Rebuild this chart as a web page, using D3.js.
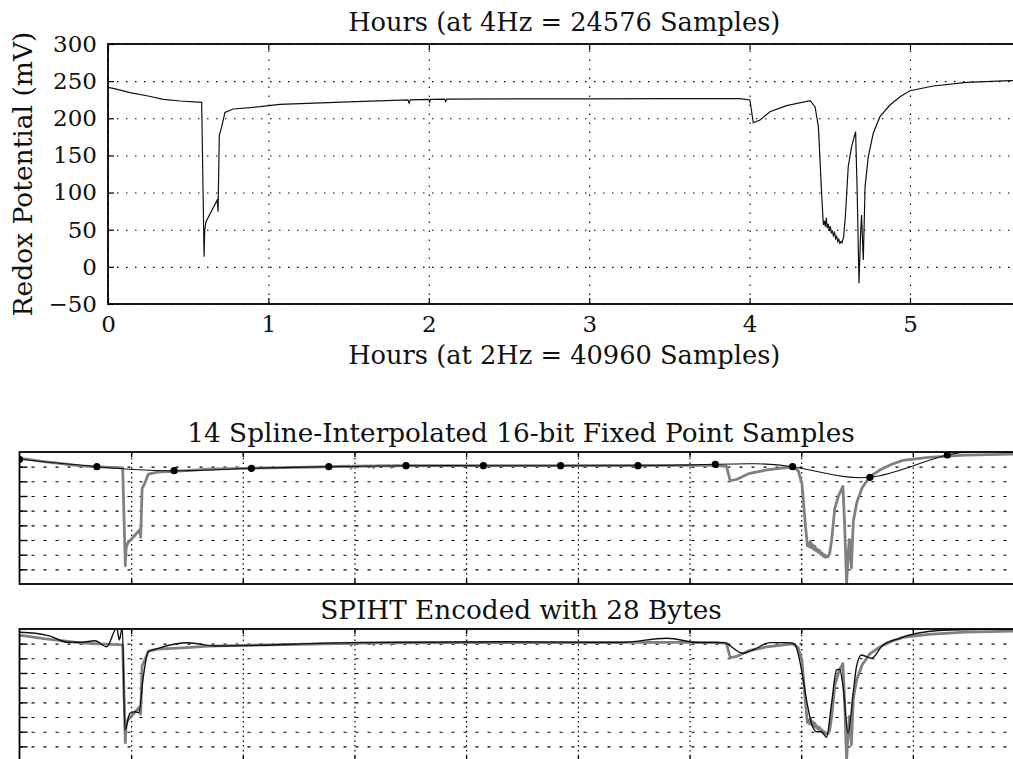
<!DOCTYPE html>
<html>
<head>
<meta charset="utf-8">
<script src="https://cdn.jsdelivr.net/npm/d3@7"></script>
<style>
  html, body { margin: 0; padding: 0; background: #fff; overflow: hidden; }
  svg { display: block; font-family: "DejaVu Serif", serif; }
</style>
</head>
<body>
<div id="chart"></div>
<script>
// redox signal (hours, mV)
const hours = [0, 0.04, 0.137, 0.25, 0.345, 0.45, 0.584, 0.599, 0.603, 0.611, 0.681, 0.686, 0.694, 0.709, 0.729, 0.781, 0.948, 1.072, 1.5, 1.87, 1.877, 1.885, 2.0, 2.005, 2.012, 2.1, 2.105, 2.113, 2.5, 3.0, 3.5, 3.94, 4.002, 4.023, 4.065, 4.127, 4.231, 4.377, 4.408, 4.429, 4.439, 4.449, 4.46, 4.466, 4.472, 4.478, 4.484, 4.49, 4.497, 4.503, 4.51, 4.516, 4.522, 4.53, 4.536, 4.543, 4.55, 4.556, 4.563, 4.57, 4.576, 4.586, 4.592, 4.597, 4.615, 4.636, 4.661, 4.671, 4.682, 4.692, 4.698, 4.709, 4.72, 4.74, 4.771, 4.813, 4.875, 4.938, 5.0, 5.145, 5.353, 5.623, 5.689];
const redox = [241.7, 240, 234.5, 230, 225.5, 223.3, 221.5, 13.7, 49.6, 60.8, 90, 74.3, 177.5, 188.7, 208, 212.5, 215.6, 218.8, 222, 224.8, 220.5, 224.8, 225.5, 222, 225.5, 225.8, 222.5, 225.8, 226, 226, 226.5, 226.5, 224.6, 194, 197.7, 208.9, 217, 223.7, 215.6, 188.7, 143.9, 99, 56.4, 62, 54, 66, 52, 58, 48, 55, 45, 49, 42, 46, 38, 41, 34, 37, 31.7, 34, 32.5, 40, 55, 67.5, 134.8, 161.8, 182, 99, -22, 45, 69.8, 9.2, 108, 148.3, 179.8, 202.2, 217.9, 229.1, 237.1, 243.5, 248.4, 250.6, 251];

const topXTicks = [0, 1, 2, 3, 4, 5];
const topYTicks = [-50, 0, 50, 100, 150, 200, 250, 300];

// 14 fixed point samples
const splineHours = [0, 0.438, 0.875, 1.313, 1.751, 2.188, 2.626, 3.063, 3.501, 3.939, 4.376, 4.814, 5.252, 5.689];
const splineValues = [239.5, 223.8, 215.3, 220.4, 223.8, 225.9, 225.9, 225.9, 225.9, 228.9, 223.8, 201.3, 248.6, 252];

// SPIHT reconstruction
const spihtHours = [0, 0.088, 0.163, 0.276, 0.352, 0.427, 0.493, 0.54, 0.55, 0.565, 0.582, 0.597, 0.625, 0.654, 0.676, 0.701, 0.729, 0.786, 0.88, 0.955, 1.106, 1.887, 2.719, 3.398, 3.664, 3.851, 3.983, 4.096, 4.153, 4.247, 4.342, 4.389, 4.407, 4.427, 4.455, 4.483, 4.512, 4.54, 4.568, 4.597, 4.625, 4.643, 4.662, 4.69, 4.719, 4.738, 4.766, 4.823, 4.888, 4.982, 5.039, 5.266, 5.623, 5.689];
const spihtValues = [248, 245.9, 240.8, 226.8, 226.8, 230.2, 217.5, 252.9, 259, 231.7, 259, 40.7, 76.2, 79.6, 77.4, 153.8, 206.8, 214, 223.2, 225.9, 219, 226, 228, 226.4, 235.3, 226, 226, 203.4, 210.5, 226, 226, 223.2, 203.4, 168, 104.4, 55, 37.2, 37.2, 25.3, 97.4, 168, 169.5, 132.6, 33.7, 118.6, 175, 199.8, 192.8, 221, 235.3, 242.3, 252.9, 255, 255];

// grid positions of the two lower panels
const gridHours = [0.632, 1.264, 1.896, 2.528, 3.161, 3.793, 4.425, 5.057];
const gridValues = [6.1, 37.2, 68.3, 99.4, 130.6, 161.7, 192.8, 223.9];

const W = 1013, H = 759;
const svg = d3.select("#chart").append("svg")
  .attr("width", W).attr("height", H)
  .attr("viewBox", [0, 0, W, H]);

const signal = hours.map((h, i) => ({h, v: redox[i]}));
const spline = splineHours.map((h, i) => ({h, v: splineValues[i]}));
const spiht = spihtHours.map((h, i) => ({h, v: spihtValues[i]}));

function frame(g, x0, x1, y0, y1){
  g.append("rect")
    .attr("x", x0).attr("y", y0)
    .attr("width", x1 - x0).attr("height", y1 - y0)
    .attr("fill", "none").attr("stroke", "#000").attr("stroke-width", 1.8);
}

function clip(id, x0, x1, y0, y1){
  svg.append("clipPath").attr("id", id)
    .append("rect").attr("x", x0).attr("y", y0)
    .attr("width", x1 - x0).attr("height", y1 - y0);
}

// ---------- top panel ----------
const tp = {x0: 108, x1: 1020.5, y0: 44, y1: 304};
const xTop = d3.scaleLinear().domain([0, 5.689]).range([tp.x0, tp.x1]);
const yTop = d3.scaleLinear().domain([-50, 300]).range([tp.y1, tp.y0]);
const gTop = svg.append("g");

gTop.append("g")
  .attr("transform", `translate(0,${tp.y1})`)
  .call(d3.axisBottom(xTop).tickValues(topXTicks).tickSize(-(tp.y1 - tp.y0)).tickFormat(""))
  .call(g => g.select(".domain").remove())
  .selectAll("line").attr("stroke", "#000").attr("stroke-width", 1.1).attr("stroke-dasharray", "1.5,7.5");

gTop.append("g")
  .attr("transform", `translate(${tp.x0},0)`)
  .call(d3.axisLeft(yTop).tickValues(topYTicks).tickSize(-(tp.x1 - tp.x0)).tickFormat(""))
  .call(g => g.select(".domain").remove())
  .selectAll("line").attr("stroke", "#000").attr("stroke-width", 1.1).attr("stroke-dasharray", "1.5,7.5");

clip("clipTop", tp.x0, tp.x1, tp.y0, tp.y1);
gTop.append("path")
  .datum(signal)
  .attr("clip-path", "url(#clipTop)")
  .attr("fill", "none").attr("stroke", "#111").attr("stroke-width", 1.2)
  .attr("d", d3.line().x(d => xTop(d.h)).y(d => yTop(d.v)));

// ticks and labels
gTop.append("g")
  .attr("transform", `translate(0,${tp.y1})`)
  .call(d3.axisBottom(xTop).tickValues(topXTicks).tickSize(-6).tickPadding(12).tickFormat(d3.format("d")));
gTop.append("g")
  .attr("transform", `translate(0,${tp.y0})`)
  .call(d3.axisTop(xTop).tickValues(topXTicks).tickSize(-6).tickFormat(""));
gTop.append("g")
  .attr("transform", `translate(${tp.x0},0)`)
  .call(d3.axisLeft(yTop).tickValues(topYTicks).tickSize(-6).tickPadding(11)
    .tickFormat(d => d < 0 ? "\u2212" + Math.abs(d) : d));
gTop.selectAll(".domain").remove();
gTop.selectAll(".tick line").filter(function(){ return !this.getAttribute("stroke-dasharray"); })
  .attr("stroke", "#000").attr("stroke-width", 1.2);
gTop.selectAll(".tick text")
  .attr("fill", "#111")
  .style("font-family", '"DejaVu Serif", serif')
  .style("font-size", "23px");

frame(gTop, tp.x0, tp.x1, tp.y0, tp.y1);

svg.append("text")
  .attr("x", (tp.x0 + tp.x1) / 2).attr("y", 31)
  .attr("text-anchor", "middle").attr("font-size", 25.7).attr("fill", "#111")
  .text("Hours (at 4Hz = 24576 Samples)");
svg.append("text")
  .attr("x", (tp.x0 + tp.x1) / 2).attr("y", 364)
  .attr("text-anchor", "middle").attr("font-size", 25.7).attr("fill", "#111")
  .text("Hours (at 2Hz = 40960 Samples)");
svg.append("text")
  .attr("transform", `translate(32,${(tp.y0 + tp.y1) / 2}) rotate(-90)`)
  .attr("text-anchor", "middle").attr("font-size", 26.5).attr("fill", "#111")
  .text("Redox Potential (mV)");

// ---------- lower panels ----------
const xLow = d3.scaleLinear().domain([0, 5.689]).range([19.5, 1024.5]);

function lowerPanel(id, y0, y1, title, drawLines){
  const y = d3.scaleLinear().domain([-25, 255]).range([y1, y0]);
  const g = svg.append("g");

  g.append("g")
    .attr("transform", `translate(0,${y1})`)
    .call(d3.axisBottom(xLow).tickValues(gridHours).tickSize(-(y1 - y0)).tickFormat(""))
    .call(s => s.select(".domain").remove())
    .selectAll("line").attr("stroke", "#000").attr("stroke-width", 1.2).attr("stroke-dasharray", "1.5,3.3");

  g.append("g")
    .attr("transform", `translate(${xLow.range()[0]},0)`)
    .call(d3.axisLeft(y).tickValues(gridValues).tickSize(-(xLow.range()[1] - xLow.range()[0])).tickFormat(""))
    .call(s => s.select(".domain").remove())
    .selectAll("line").attr("stroke", "#000").attr("stroke-width", 1.1).attr("stroke-dasharray", "3,9");

  // inward ticks
  g.append("g").attr("transform", `translate(0,${y1})`)
    .call(d3.axisBottom(xLow).tickValues(gridHours).tickSize(-5).tickFormat(""));
  g.append("g").attr("transform", `translate(0,${y0})`)
    .call(d3.axisTop(xLow).tickValues(gridHours).tickSize(-5).tickFormat(""));
  g.append("g").attr("transform", `translate(${xLow.range()[0]},0)`)
    .call(d3.axisLeft(y).tickValues(gridValues).tickSize(-8).tickFormat(""));
  g.selectAll(".domain").remove();
  g.selectAll(".tick line").filter(function(){ return !this.getAttribute("stroke-dasharray"); })
    .attr("stroke", "#000").attr("stroke-width", 1.4);

  clip(id, xLow.range()[0], xLow.range()[1], y0, y1);
  const lines = g.append("g").attr("clip-path", `url(#${id})`);
  lines.append("path")
    .datum(signal)
    .attr("fill", "none").attr("stroke", "#808080").attr("stroke-width", 2.8)
    .attr("stroke-linejoin", "round")
    .attr("d", d3.line().x(d => xLow(d.h)).y(d => y(d.v)));
  drawLines(lines, y);

  frame(g, xLow.range()[0], xLow.range()[1], y0, y1);

  svg.append("text")
    .attr("x", 521).attr("y", y0 - 10)
    .attr("text-anchor", "middle").attr("font-size", 26.3).attr("fill", "#111")
    .text(title);
}

lowerPanel("clipSpline", 452, 584, "14 Spline-Interpolated 16-bit Fixed Point Samples", (g, y) => {
  g.append("path")
    .datum(spline)
    .attr("fill", "none").attr("stroke", "#111").attr("stroke-width", 1.1)
    .attr("d", d3.line().curve(d3.curveNatural).x(d => xLow(d.h)).y(d => y(d.v)));
  g.selectAll("circle")
    .data(spline)
    .join("circle")
      .attr("cx", d => xLow(d.h)).attr("cy", d => y(d.v))
      .attr("r", 3.6).attr("fill", "#000");
});

lowerPanel("clipSpiht", 629, 761, "SPIHT Encoded with 28 Bytes", (g, y) => {
  g.append("path")
    .datum(spiht)
    .attr("fill", "none").attr("stroke", "#111").attr("stroke-width", 1.4)
    .attr("d", d3.line().curve(d3.curveMonotoneX).x(d => xLow(d.h)).y(d => y(d.v)));
});
</script>
</body>
</html>
